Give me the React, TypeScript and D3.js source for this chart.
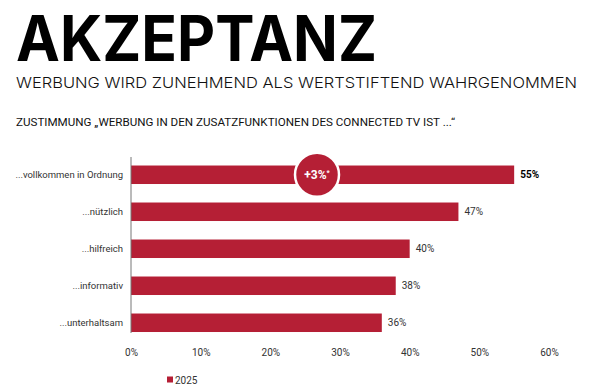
import React, { useEffect, useRef } from "react";
import * as d3 from "d3";

const categories = [
  "...vollkommen in Ordnung",
  "...nützlich",
  "...hilfreich",
  "...informativ",
  "...unterhaltsam",
];
const values2025 = [55, 47, 40, 38, 36];
const xTicks = [0, 10, 20, 30, 40, 50, 60];
const seriesName = "2025";
const badgeText = "+3%";

const RED = "#b51f35";
const BODY = "Roboto, Inter, sans-serif";

const App = () => {
  const svgRef = useRef<SVGSVGElement>(null);

  useEffect(() => {
    const width = 605;
    const height = 392;
    const marginLeft = 131;
    const marginRight = 56;
    const top = 157;
    const step = 37;

    const svg = d3.select(svgRef.current).attr("width", width).attr("height", height);
    svg.selectAll("*").remove();

    // Titles
    svg
      .append("text")
      .attr("x", 16)
      .attr("y", 61)
      .attr("font-family", "Inter")
      .attr("font-weight", 700)
      .attr("font-size", 63)
      .attr("textLength", 361)
      .attr("lengthAdjust", "spacingAndGlyphs")
      .attr("fill", "#000")
      .text("AKZEPTANZ");

    svg
      .append("text")
      .attr("x", 16)
      .attr("y", 88)
      .attr("font-family", "Inter")
      .attr("font-weight", 300)
      .attr("font-size", 15)
      .attr("textLength", 561)
      .attr("lengthAdjust", "spacingAndGlyphs")
      .attr("fill", "#111")
      .text("WERBUNG WIRD ZUNEHMEND ALS WERTSTIFTEND WAHRGENOMMEN");

    svg
      .append("text")
      .attr("x", 16)
      .attr("y", 126)
      .attr("font-family", BODY)
      .attr("font-weight", 400)
      .attr("font-size", 11)
      .attr("textLength", 439)
      .attr("lengthAdjust", "spacingAndGlyphs")
      .attr("fill", "#111")
      .text("ZUSTIMMUNG „WERBUNG IN DEN ZUSATZFUNKTIONEN DES CONNECTED TV IST ...“");

    const x = d3.scaleLinear().domain([0, 60]).range([marginLeft, width - marginRight]);
    const y = d3
      .scaleBand()
      .domain(categories)
      .range([top, top + step * (categories.length - 0.5 + 2 * 0.23)])
      .paddingInner(0.5)
      .paddingOuter(0.23);

    const lastBottom = y(categories[categories.length - 1])! + y.bandwidth();

    // Bars
    svg
      .append("g")
      .selectAll("rect")
      .data(values2025)
      .join("rect")
      .attr("x", x(0))
      .attr("y", (_, i) => y(categories[i])!)
      .attr("width", (d) => x(d) - x(0))
      .attr("height", y.bandwidth())
      .attr("fill", RED);

    // Vertical axis line
    svg
      .append("line")
      .attr("x1", x(0))
      .attr("x2", x(0))
      .attr("y1", top)
      .attr("y2", lastBottom + 1)
      .attr("stroke", "#777")
      .attr("stroke-width", 1);

    // Category labels
    svg
      .append("g")
      .selectAll("text")
      .data(categories)
      .join("text")
      .attr("x", x(0) - 8)
      .attr("y", (d) => y(d)! + y.bandwidth() / 2)
      .attr("dy", "0.35em")
      .attr("text-anchor", "end")
      .attr("font-family", BODY)
      .attr("font-size", 9.5)
      .attr("fill", "#333")
      .text((d) => d);

    // Value labels
    svg
      .append("g")
      .selectAll("text")
      .data(values2025)
      .join("text")
      .attr("x", (d) => x(d) + 6)
      .attr("y", (_, i) => y(categories[i])! + y.bandwidth() / 2)
      .attr("dy", "0.35em")
      .attr("font-family", BODY)
      .attr("font-size", 10)
      .attr("font-weight", (_, i) => (i === 0 ? 700 : 400))
      .attr("fill", (_, i) => (i === 0 ? "#000" : "#333"))
      .text((d) => `${d}%`);

    // X axis tick labels
    const axis = svg
      .append("g")
      .attr("transform", `translate(0, ${lastBottom + 20})`)
      .call(
        d3
          .axisBottom(x)
          .tickValues(xTicks)
          .tickSize(0)
          .tickFormat((d) => `${d}%`)
      );
    axis.select(".domain").remove();
    axis
      .selectAll("text")
      .attr("font-family", BODY)
      .attr("font-size", 10)
      .attr("fill", "#333")
      .attr("dy", "0.35em")
      .attr("y", 0);

    // Badge
    const cy = y(categories[0])! + y.bandwidth() / 2;
    const cx = x(26.7);
    const badge = svg.append("g");
    badge
      .append("circle")
      .attr("cx", cx)
      .attr("cy", cy)
      .attr("r", 22)
      .attr("fill", RED)
      .attr("stroke", "#fff")
      .attr("stroke-width", 2.5);
    const bt = badge
      .append("text")
      .attr("x", cx)
      .attr("y", cy)
      .attr("dy", "0.35em")
      .attr("text-anchor", "middle")
      .attr("font-family", BODY)
      .attr("font-weight", 700)
      .attr("font-size", 12)
      .attr("fill", "#fff");
    bt.append("tspan").text(badgeText);
    bt.append("tspan").attr("font-size", 7).attr("dy", "-0.6em").text("*");

    // Legend
    const legend = svg.append("g").attr("transform", "translate(167, 380)");
    legend.append("rect").attr("x", 0).attr("y", -3.5).attr("width", 6).attr("height", 6).attr("fill", RED);
    legend
      .append("text")
      .attr("x", 8)
      .attr("y", 0)
      .attr("dy", "0.35em")
      .attr("font-family", BODY)
      .attr("font-size", 10)
      .attr("fill", "#333")
      .text(seriesName);
  }, []);

  return (
    <div style={{ position: "absolute", left: 0, top: 0 }}>
      <svg ref={svgRef}></svg>
    </div>
  );
};

export default App;
